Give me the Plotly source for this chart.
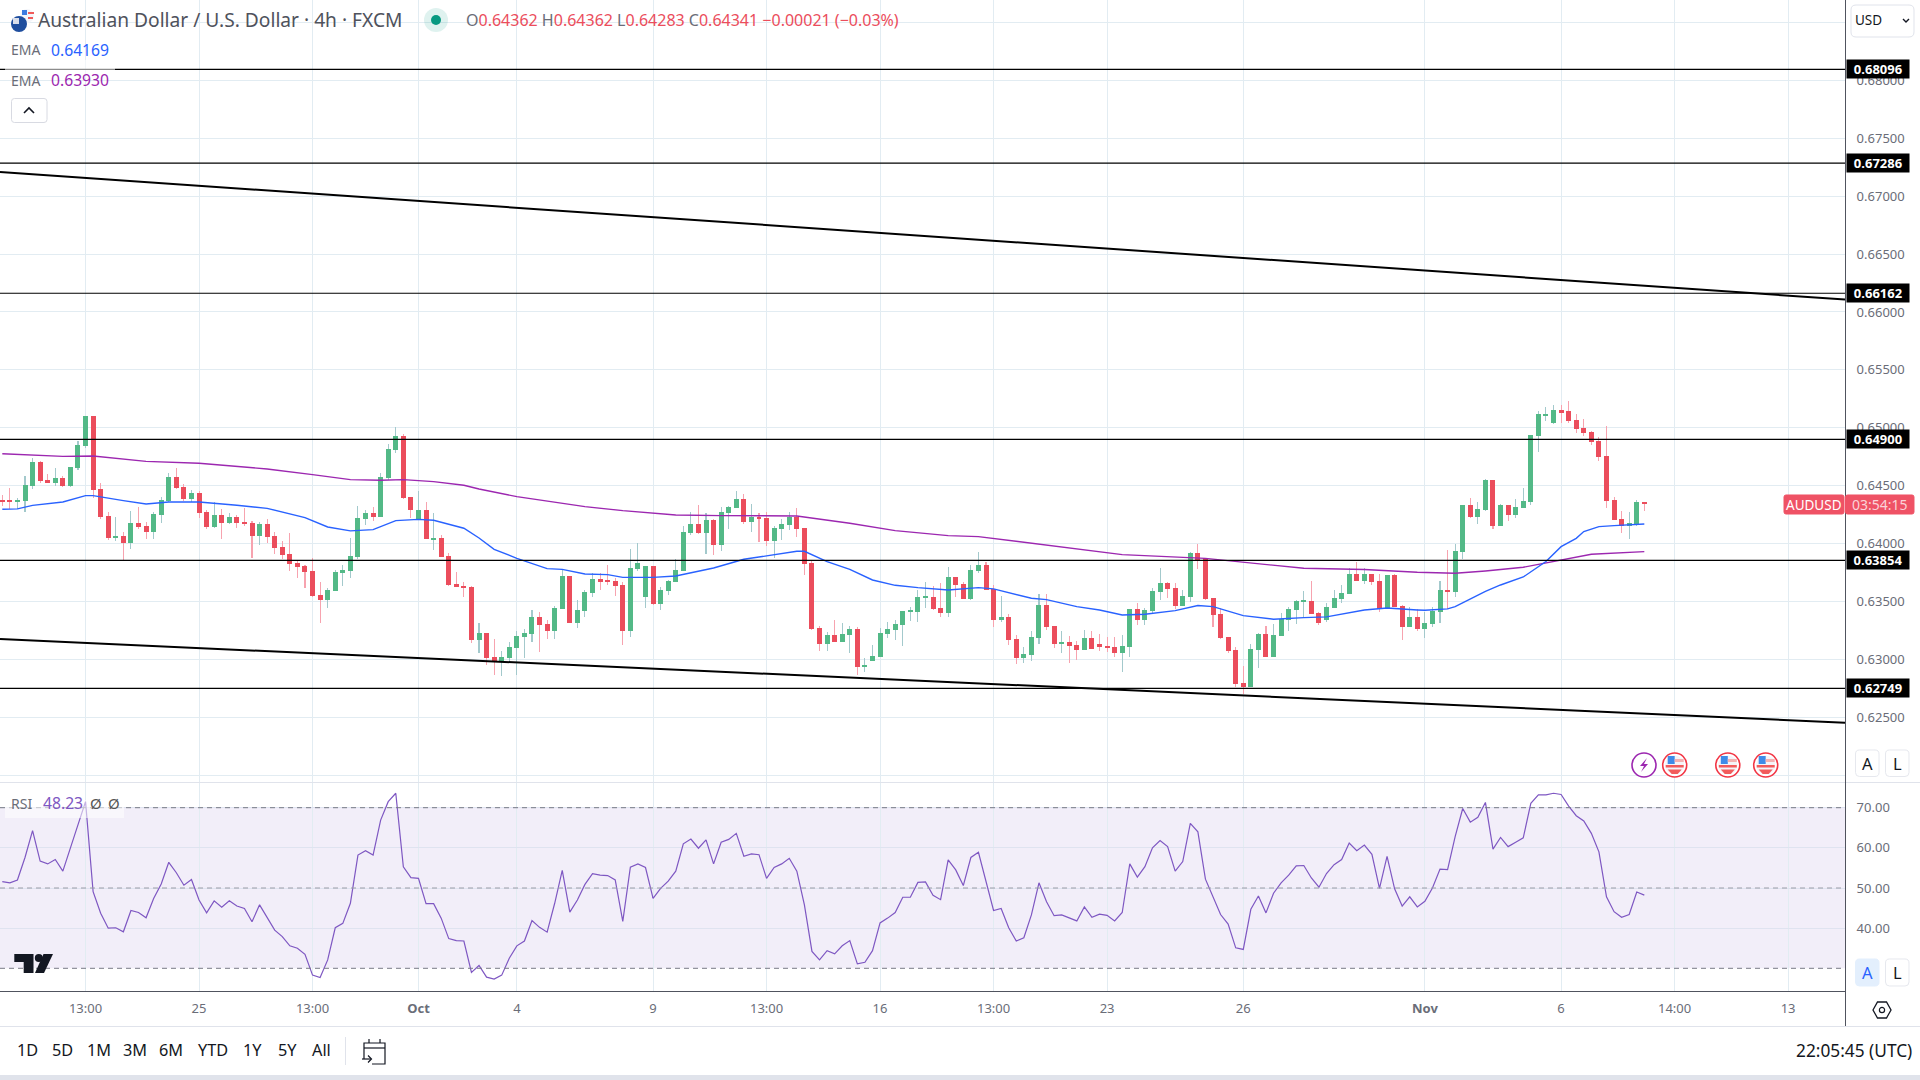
import plotly.graph_objects as go

# ---- data (price in 1e-5 units) ----
open_pts = [64376,64368,64362,64371,64497,64705,64549,64523,64566,64497,
64653,64843,65102,64471,64238,64048,64065,64005,64178,64152,
64100,64247,64368,64575,64489,64385,64437,64273,64143,64247,
64178,64229,64186,64178,64065,64169,64065,63970,63910,63832,
63806,63763,63556,63513,63590,63746,63763,63884,64212,64264,
64229,64566,64808,64929,64402,64212,64290,64039,64048,63893,
63651,63633,63625,63167,63228,63021,62977,63012,63098,63193,
63219,63366,63306,63245,63435,63720,63314,63418,63573,63694,
63677,63677,63642,63245,63781,63539,63806,63478,63591,63668,
63763,64091,64169,64091,64204,63988,64264,64307,64385,64186,
64230,64221,64022,64126,64161,64230,64135,63832,63271,63133,
63210,63150,63210,63262,62934,62986,63021,63219,63254,63297,
63409,63409,63530,63539,63444,63401,63712,63651,63522,63763,
63815,63608,63340,63366,63176,63012,63038,63185,63470,63288,
63133,63150,63124,63081,63185,63133,63116,63107,63055,63107,
63435,63340,63418,63582,63660,63617,63461,63539,63919,63876,
63530,63392,63193,63081,62796,62762,63081,63219,63021,63202,
63340,63427,63496,63504,63401,63340,63444,63522,63565,63738,
63677,63738,63677,63435,63729,63460,63279,63365,63262,63305,
63409,63599,63581,63927,64333,64229,64290,64549,64151,64333,
64246,64307,64359,64929,65110,65041,65153,65145,65067,64998,
64963,64885,64756,64376,64212,64151,64169,64362]
high_pts = [64419,64477,64391,64584,64739,64713,64601,64653,64584,64661,
64886,65102,65102,64523,64273,64229,64100,64281,64316,64186,
64273,64402,64610,64653,64514,64463,64454,64290,64359,64299,
64264,64247,64307,64195,64186,64212,64100,64022,64091,63858,
63815,63872,63668,63616,63772,63815,64048,64324,64290,64316,
64610,64860,65007,64946,64402,64454,64359,64264,64074,63919,
63754,63668,63633,63314,63228,63176,63072,63150,63245,63262,
63426,63409,63340,63461,63781,63720,63513,63599,63746,63746,
63815,63703,63668,63953,64005,63806,63806,63625,63686,63867,
64152,64273,64333,64264,64212,64316,64325,64454,64428,64342,
64264,64273,64152,64212,64273,64307,64135,63858,63288,63236,
63340,63314,63288,63280,63012,63124,63271,63323,63340,63418,
63452,63599,63668,63634,63660,63798,63712,63668,63815,63928,
63841,63643,63548,63392,63211,63107,63245,63565,63565,63288,
63245,63202,63159,63254,63245,63219,63193,63193,63211,63435,
63487,63444,63617,63789,63668,63660,63599,63928,63997,63876,
63530,63444,63193,63107,62943,63133,63228,63288,63306,63401,
63453,63513,63591,63677,63409,63487,63599,63643,63789,63841,
63789,63738,63738,63729,63738,63469,63452,63434,63409,63452,
63676,63944,63996,64333,64393,64359,64557,64549,64341,64333,
64385,64480,64937,65145,65179,65196,65196,65231,65119,65076,
64972,64920,65015,64402,64281,64272,64376,64362]
low_pts = [64324,64299,64299,64276,64474,64526,64523,64497,64486,64489,
64635,64828,64396,64212,64031,64022,63849,63953,64126,64039,
64039,64178,64359,64471,64368,64359,64221,64126,64134,64039,
64169,64134,64152,63875,63988,64005,63910,63867,63763,63703,
63616,63539,63314,63444,63590,63633,63703,63867,64160,64195,
64229,64549,64782,64385,64221,64204,64039,63944,63884,63633,
63625,63539,63141,63055,62951,62865,62856,62977,62865,63012,
63150,63064,63176,63176,63435,63314,63271,63366,63539,63599,
63642,63547,63124,63193,63763,63444,63470,63426,63556,63668,
63763,64074,64083,63910,63901,63936,64126,64307,64169,64100,
64014,63979,63876,64031,64117,64057,63729,63254,63072,63072,
63150,63150,63055,62865,62891,62986,63021,63185,63167,63116,
63331,63323,63444,63426,63366,63366,63539,63522,63513,63746,
63599,63280,63323,63124,62960,62969,62986,63133,63254,63098,
63055,62969,62995,63081,63090,63073,63064,63021,62891,63021,
63297,63297,63392,63513,63530,63435,63461,63496,63781,63513,
63280,63176,63055,62762,62701,62762,62926,63021,63021,63202,
63245,63306,63366,63392,63297,63323,63444,63487,63565,63677,
63651,63643,63409,63435,63453,63167,63279,63244,63181,63279,
63314,63434,63538,63866,64220,64169,64281,64125,64151,64195,
64220,64307,64333,64790,65058,65032,65041,65041,64955,64929,
64851,64713,64307,64203,64091,64039,64151,64283]
close_pts = [64362,64362,64376,64506,64705,64540,64523,64566,64497,64661,
64851,65102,64463,64229,64048,64065,64005,64178,64143,64100,
64255,64376,64575,64480,64385,64437,64264,64143,64247,64178,
64229,64178,64169,64065,64169,64057,63962,63901,63824,63798,
63754,63547,63513,63599,63754,63772,63893,64221,64264,64229,
64575,64817,64929,64394,64290,64290,64039,64048,63884,63642,
63625,63616,63167,63228,63012,62977,63021,63107,63202,63228,
63366,63297,63245,63444,63720,63314,63426,63582,63694,63668,
63668,63634,63245,63789,63832,63806,63478,63599,63677,63772,
64100,64169,64091,64204,63988,64273,64316,64385,64186,64230,
64212,64022,64135,64169,64230,64126,63824,63262,63133,63210,
63150,63219,63262,62934,62951,63029,63228,63262,63306,63418,
63418,63539,63539,63435,63401,63711,63643,63522,63772,63815,
63599,63340,63366,63168,63012,63047,63193,63470,63280,63133,
63150,63116,63081,63185,63090,63107,63098,63055,63116,63435,
63340,63427,63591,63660,63608,63461,63548,63919,63859,63522,
63383,63185,63073,62788,62762,63090,63219,63021,63211,63349,
63435,63504,63504,63392,63314,63453,63530,63574,63738,63677,
63738,63668,63435,63729,63453,63279,63365,63262,63314,63417,
63599,63581,63935,64333,64229,64298,64549,64151,64333,64246,
64315,64367,64937,65119,65119,65153,65136,65058,64989,64955,
64877,64747,64367,64203,64151,64177,64359,64341]

ema_fast_idx = [0,2,4,8,11,12,16,19,22,26,31,35,40,43,46,49,52,55,57,61,63,65,68,72,74,77,80,82,86,89,94,98,101,105,106,109,112,115,118,121,125,129,131,136,138,142,145,148,151,155,158,160,164,168,172,175,180,183,187,188,191,192,196,198,201,204,206,208,209,211,213,217]
ema_fast_pts = [64296,64299,64330,64359,64414,64414,64371,64342,64359,64359,64330,64304,64224,64143,64109,64120,64198,64209,64201,64132,64048,63950,63872,63783,63777,63737,63731,63708,63708,63720,63789,63864,63893,63933,63933,63844,63777,63685,63639,63619,63599,63619,63608,63527,63515,63455,63426,63383,63389,63420,63464,63455,63377,63346,63360,63366,63426,63443,63426,63423,63435,63455,63587,63642,63711,63844,63973,64045,64103,64146,64155,64169]
ema_slow_idx = [0,8,12,16,19,26,35,41,46,50,53,57,61,63,68,77,82,89,95,105,112,118,125,129,136,148,159,164,172,180,187,192,196,201,206,210,217]
ema_slow_pts = [64776,64753,64756,64728,64710,64693,64644,64595,64552,64546,64552,64535,64503,64471,64405,64319,64284,64247,64241,64238,64175,64111,64068,64060,64002,63904,63872,63838,63786,63775,63752,63743,63763,63795,63855,63907,63930]

rsi_values = [51.6,51.3,52.0,57.6,64.3,56.7,56.0,57.1,54.2,59.9,65.9,71.5,49.1,43.7,40.0,40.1,39.1,44.4,43.9,42.6,
47.4,51.0,56.4,53.8,50.7,52.1,47.0,43.8,46.8,45.2,46.8,45.5,44.9,41.6,45.8,42.5,39.5,37.9,35.6,35.0,
33.5,28.3,27.7,32.1,40.1,41.2,46.2,58.2,59.3,58.2,66.9,71.5,73.6,55.3,52.6,52.4,46.1,46.1,42.5,37.4,
36.9,36.8,29.0,30.7,27.8,27.3,28.3,32.5,35.6,36.8,41.9,40.2,39.0,46.2,54.4,44.0,47.0,50.9,53.6,53.2,
53.1,52.0,41.7,55.2,56.0,55.1,47.4,49.9,51.7,54.2,61.0,62.2,59.9,62.0,56.0,61.4,62.1,63.6,57.9,58.5,
58.3,52.4,55.1,56.0,57.4,54.2,45.8,34.2,32.1,34.4,33.6,35.6,36.9,31.1,31.5,34.4,41.3,42.5,43.9,47.7,
47.7,51.4,51.5,48.2,47.1,57.0,54.5,50.6,57.6,58.9,51.6,44.4,44.9,40.1,36.8,37.6,43.3,51.3,46.6,43.1,
43.3,42.6,41.8,45.3,42.7,43.5,43.2,41.8,43.9,56.0,52.7,55.3,60.0,61.8,60.3,54.2,56.6,66.1,64.0,52.2,
47.8,43.4,41.0,35.1,34.7,44.7,48.0,43.8,48.7,51.3,53.2,55.5,55.6,52.5,50.2,53.6,55.8,57.1,61.2,59.3,
60.7,58.4,49.9,57.9,49.8,45.5,47.8,45.3,46.7,50.0,54.7,54.6,62.8,69.8,66.4,67.6,71.3,59.7,62.6,60.3,
61.4,62.5,71.1,73.2,73.2,73.6,73.3,70.4,68.0,66.7,63.6,59.0,47.8,44.1,42.7,43.4,49.0,48.23]

level_prices = [0.68096, 0.67286, 0.66162, 0.64900, 0.63854, 0.62749]
level_labels = ["0.68096", "0.67286", "0.66162", "0.64900", "0.63854", "0.62749"]
price_ticks = [0.685,0.68,0.675,0.67,0.665,0.66,0.655,0.65,0.645,0.64,0.635,0.63,0.625,0.62]
price_tick_labels = ["","0.68000","0.67500","0.67000","0.66500","0.66000","0.65500","0.65000","0.64500","0.64000","0.63500","0.63000","0.62500",""]
rsi_ticks = [40,50,60,70]
rsi_tick_labels = ["40.00","50.00","60.00","70.00"]
time_idx = [11,26,41,55,68,86,101,116,131,146,164,188,206,221,236]
time_labels = ["13:00","25","13:00","<b>Oct</b>","4","9","13:00","16","13:00","23","26","<b>Nov</b>","6","14:00","13"]
trend_upper = [0.67209, 0.66107]
trend_lower = [0.63175, 0.62452]
range_buttons = ["1D","5D","1M","3M","6M","YTD","1Y","5Y","All"]

X_RANGE = [-0.304, 243.52]
P_RANGE = [0.61940, 0.68695]
R_RANGE = [24.35, 76.15]
W, H = 1920, 1080
FONT = "Noto Sans"
GREEN, RED = "#53B987", "#EB4D5C"
GREEN_W, RED_W = "#A3C9CC", "#F7A3AF"
GRID = "#E2ECF2"
TXT = "#6A6D78"

def px(x): return x / W
def py(y): return 1 - y / H

n = len(open_pts)
xs = list(range(n))
up = [c >= o for o, c in zip(open_pts, close_pts)]

fig = go.Figure()
fig.add_trace(go.Bar(x=xs, base=[l/1e5 for l in low_pts],
                     y=[(h-l)/1e5 for h, l in zip(high_pts, low_pts)], width=0.01,
                     marker=dict(color=[GREEN_W if u else RED_W for u in up], line_width=0),
                     hoverinfo="skip"))
fig.add_trace(go.Bar(x=xs, base=[min(o, c)/1e5 for o, c in zip(open_pts, close_pts)],
                     y=[abs(o-c)/1e5 for o, c in zip(open_pts, close_pts)], width=0.66,
                     marker=dict(color=[GREEN if u else RED for u in up], line_width=0),
                     hoverinfo="skip"))
fig.add_trace(go.Scatter(x=ema_slow_idx, y=[v/1e5 for v in ema_slow_pts], mode="lines",
                         line=dict(color="#9C27B0", width=1.4), hoverinfo="skip"))
fig.add_trace(go.Scatter(x=ema_fast_idx, y=[v/1e5 for v in ema_fast_pts], mode="lines",
                         line=dict(color="#2962FF", width=1.4), hoverinfo="skip"))
for lv in level_prices:
    fig.add_trace(go.Scatter(x=X_RANGE, y=[lv, lv], mode="lines",
                             line=dict(color="#000000", width=1.2), hoverinfo="skip"))
for tr in (trend_upper, trend_lower):
    fig.add_trace(go.Scatter(x=X_RANGE, y=tr, mode="lines",
                             line=dict(color="#000000", width=2), hoverinfo="skip"))
fig.add_trace(go.Scatter(x=xs, y=rsi_values, mode="lines", xaxis="x2", yaxis="y2",
                         line=dict(color="#7E57C2", width=1.2), hoverinfo="skip"))

shapes, anns = [], []

def rect(x0, y0, x1, y1, fill, line=None, layer="above", lw=1):
    shapes.append(dict(type="rect", xref="paper", yref="paper", x0=px(x0), x1=px(x1),
                       y0=py(y0), y1=py(y1), fillcolor=fill, layer=layer,
                       line=dict(color=line or "rgba(0,0,0,0)", width=lw if line else 0)))

def circle(cx, cy, r, fill, line=None, lw=1):
    shapes.append(dict(type="circle", xref="paper", yref="paper", x0=px(cx-r), x1=px(cx+r),
                       y0=py(cy+r), y1=py(cy-r), fillcolor=fill, layer="above",
                       line=dict(color=line or "rgba(0,0,0,0)", width=lw if line else 0)))

def poly(points, fill=None, line=None, lw=1, close=True):
    d = "M " + " L ".join(f"{px(a):.5f} {py(b):.5f}" for a, b in points) + (" Z" if close else "")
    shapes.append(dict(type="path", xref="paper", yref="paper", path=d, layer="above",
                       fillcolor=fill or "rgba(0,0,0,0)",
                       line=dict(color=line or "rgba(0,0,0,0)", width=lw if line else 0)))

def rrect(x0, y0, x1, y1, r, fill, line):
    c = lambda a, b: f"{px(a):.5f} {py(b):.5f}"
    d = (f"M {c(x0+r,y0)} L {c(x1-r,y0)} Q {c(x1,y0)} {c(x1,y0+r)} L {c(x1,y1-r)} Q {c(x1,y1)} {c(x1-r,y1)} "
         f"L {c(x0+r,y1)} Q {c(x0,y1)} {c(x0,y1-r)} L {c(x0,y0+r)} Q {c(x0,y0)} {c(x0+r,y0)} Z")
    shapes.append(dict(type="path", xref="paper", yref="paper", path=d, layer="above",
                       fillcolor=fill, line=dict(color=line, width=1)))

def text(x, y, s, size=14, color=TXT, anchor="left"):
    anns.append(dict(xref="paper", yref="paper", x=px(x), y=py(y), text=s, showarrow=False,
                     xanchor=anchor, yanchor="middle", borderpad=0, borderwidth=0,
                     font=dict(family=FONT, size=size, color=color)))

# RSI band and dashed levels
shapes.append(dict(type="rect", xref="x2", yref="y2", x0=X_RANGE[0], x1=X_RANGE[1], y0=30, y1=70,
                   fillcolor="rgba(126,87,194,0.10)", line_width=0, layer="below"))
for lvl, col in ((70, "#787B86"), (50, "#9A9DA6"), (30, "#787B86")):
    shapes.append(dict(type="line", xref="x2", yref="y2", x0=X_RANGE[0], x1=X_RANGE[1], y0=lvl, y1=lvl,
                       line=dict(color=col, width=1, dash="5px,4px"), layer="above"))

# frame lines
rect(0, 1075, W, H, "#E0E3EB")
rect(0, 1026, W, 1027, "#E0E3EB")
rect(0, 782, W, 783, "#E0E3EB")
rect(0, 991, 1845, 992, "#50535E")
rect(1845, 0, 1846, 1026, "#50535E")

# legend veils
rect(5, 60, 115, 78, "rgba(255,255,255,0.55)")
rect(5, 800, 124, 818, "rgba(255,255,255,0.55)")

# header
text(38, 20, "Australian Dollar / U.S. Dollar · 4h · FXCM", 19.2, "#4F525C")
circle(27, 16, 7, "#F4F6FA"); rect(22, 10, 27, 15, "#3C7BE0"); rect(28, 12, 34, 14, "#F05A5A"); rect(28, 17, 33, 19, "#F05A5A")
circle(19, 24, 8, "#1F4E9E"); rect(13, 18, 19, 24, "#D9DEEA"); 
circle(436, 20, 12, "rgba(8,153,129,0.13)"); circle(436, 20, 5, "#089981")
text(466, 20, f'O<span style="color:{RED}">0.64362</span> H<span style="color:{RED}">0.64362</span> '
     f'L<span style="color:{RED}">0.64283</span> C<span style="color:{RED}">0.64341</span> '
     f'<span style="color:{RED}">−0.00021 (−0.03%)</span>', 16, TXT)
text(11, 50, "EMA", 14, TXT); text(51, 50, "0.64169", 15.7, "#2962FF")
text(11, 80, "EMA", 14, TXT); text(51, 80, "0.63930", 15.7, "#9C27B0")
rrect(11.5, 98.5, 47, 122.5, 3, "#FFFFFF", "#D8DAE2")
poly([(24, 113), (29, 108), (34, 113)], None, "#131722", 1.6, close=False)

# USD selector
rrect(1851, 5, 1914, 37, 5, "#FFFFFF", "#E0E3EB")
text(1855, 20, "USD", 13.5, "#131722")
poly([(1903, 19), (1906, 22), (1909, 19)], None, "#131722", 1.4, close=False)

# level tags
for lv, lab in zip(level_prices, level_labels):
    anns.append(dict(xref="paper", yref="y", x=px(1846), y=lv, text=f"<b>{lab}</b>", showarrow=False,
                     xanchor="left", yanchor="middle", width=62, height=18, align="center", valign="middle",
                     bgcolor="#000000", borderpad=0, font=dict(family=FONT, size=13, color="#FFFFFF")))

# last-price tags
rrect(1784, 495, 1844, 514, 2, "#EF5265", "#EF5265")
rrect(1845.5, 495, 1914, 514, 2, "#EF5265", "#EF5265")
text(1814, 504.5, "AUDUSD", 13.5, "#FFFFFF", "center")
text(1880, 504.5, "03:54:15", 14, "#FBD3D8", "center")

# events
def flag(cx, cy=765):
    circle(cx, cy, 12, "#FFFFFF", "#F23645", 1.6)
    circle(cx, cy, 9.5, "#F4F4F8")
    rect(cx-7, cy-9, cx+0, cy-1, "#3F8BE8")
    rect(cx+0, cy-6, cx+9, cy-3, "#F4B2B2")
    rect(cx-9, cy+0, cx+9, cy+2.5, "#F25B5B")
    poly([(cx-7, cy+4.5), (cx+7, cy+4.5), (cx+3, cy+9), (cx-3, cy+9)], "#F25B5B")
circle(1644, 765, 12, "#FFFFFF", "#9C27B0", 1.6)
poly([(1647, 758), (1640, 766), (1644, 766), (1641, 772), (1648, 764), (1644, 764)], "#9C27B0")
for cx in (1674.7, 1727.8, 1765.7):
    flag(cx)

# A / L buttons
rrect(1855.5, 750, 1879, 776.5, 4, "#FFFFFF", "#E6E8EE")
rrect(1885.5, 750, 1909, 776.5, 4, "#FFFFFF", "#E6E8EE")
rrect(1855.5, 959, 1879, 986, 4, "#E3EFFD", "#E3EFFD")
rrect(1885.5, 959, 1909, 986, 4, "#FFFFFF", "#E6E8EE")
text(1867, 763, "A", 16.5, "#131722", "center"); text(1897, 763, "L", 16.5, "#131722", "center")
text(1867, 972.5, "A", 16.5, "#2962FF", "center"); text(1897, 972.5, "L", 16.5, "#131722", "center")

# settings icon
poly([(1873, 1010), (1877.5, 1002), (1886.5, 1002), (1891, 1010), (1886.5, 1018), (1877.5, 1018)], None, "#131722", 1.3)
circle(1882, 1010, 2.6, "#FFFFFF", "#131722", 1.2)

# RSI legend
text(11, 803, "RSI", 14, TXT); text(43, 803, "48.23", 15.7, "#7E57C2")
text(90, 803, "Ø", 15, "#555"); text(108, 803, "Ø", 15, "#555")

# TradingView logo
LOGO = "#131722"
poly([(14.3, 954), (33.5, 954), (33.5, 973), (23.7, 973), (23.7, 962), (14.3, 962)], LOGO)
circle(38.8, 958, 4, LOGO)
poly([(43.5, 954), (53, 954), (44, 973), (35, 973)], LOGO)

# bottom bar
for lab, cx in zip(range_buttons, [27.8, 62.4, 98.8, 135, 171.4, 212.6, 252.7, 287, 321.6]):
    text(cx, 1050, lab, 16.3, "#131722", "center")
rect(345, 1037, 346, 1065, "#E0E3EB")
cal = "#131722"
poly([(364, 1059), (364, 1043), (385, 1043), (385, 1064), (372, 1064)], None, cal, 1.2, close=False)
poly([(364, 1048), (385, 1048)], None, cal, 1.2, close=False)
poly([(369, 1039), (369, 1043)], None, cal, 1.2, close=False)
poly([(380, 1039), (380, 1043)], None, cal, 1.2, close=False)
poly([(362, 1059), (371, 1059)], None, cal, 1.2, close=False)
poly([(368, 1055.5), (371.5, 1059), (368, 1062.5)], None, cal, 1.2, close=False)
text(1912, 1050, "22:05:45 (UTC)", 17.3, "#131722", "right")

axis_common = dict(showline=False, zeroline=False, showgrid=True, gridcolor=GRID, gridwidth=1)
fig.update_layout(
    width=W, height=H, margin=dict(l=0, r=0, t=0, b=0), autosize=False,
    paper_bgcolor="#FFFFFF", plot_bgcolor="#FFFFFF", showlegend=False,
    barmode="overlay", bargap=0, dragmode=False,
    shapes=shapes, annotations=anns,
    xaxis=dict(domain=[0, px(1845)], range=X_RANGE, tickmode="array", tickvals=time_idx,
               showticklabels=False, anchor="y", **axis_common),
    xaxis2=dict(domain=[0, px(1845)], range=X_RANGE, tickmode="array", tickvals=time_idx,
                ticktext=time_labels, anchor="y2", ticks="outside", ticklen=5,
                tickcolor="rgba(0,0,0,0)", tickfont=dict(family=FONT, size=13, color=TXT), **axis_common),
    yaxis=dict(domain=[py(782), 1], range=P_RANGE, side="right", anchor="x", tickmode="array",
               tickvals=price_ticks, ticktext=price_tick_labels, ticks="outside", ticklen=8,
               tickcolor="rgba(0,0,0,0)", tickfont=dict(family=FONT, size=13, color=TXT), **axis_common),
    yaxis2=dict(domain=[py(991), py(783)], range=R_RANGE, side="right", anchor="x2", tickmode="array",
                tickvals=rsi_ticks, ticktext=rsi_tick_labels, ticks="outside", ticklen=8,
                tickcolor="rgba(0,0,0,0)", tickfont=dict(family=FONT, size=13, color=TXT),
                showline=False, zeroline=False, showgrid=True, gridcolor="#DFE3F0", gridwidth=1),
)

fig.write_html("out.html", config={"displayModeBar": False, "staticPlot": False},
               post_script="document.body.style.margin='0';document.body.style.overflow='hidden';")
